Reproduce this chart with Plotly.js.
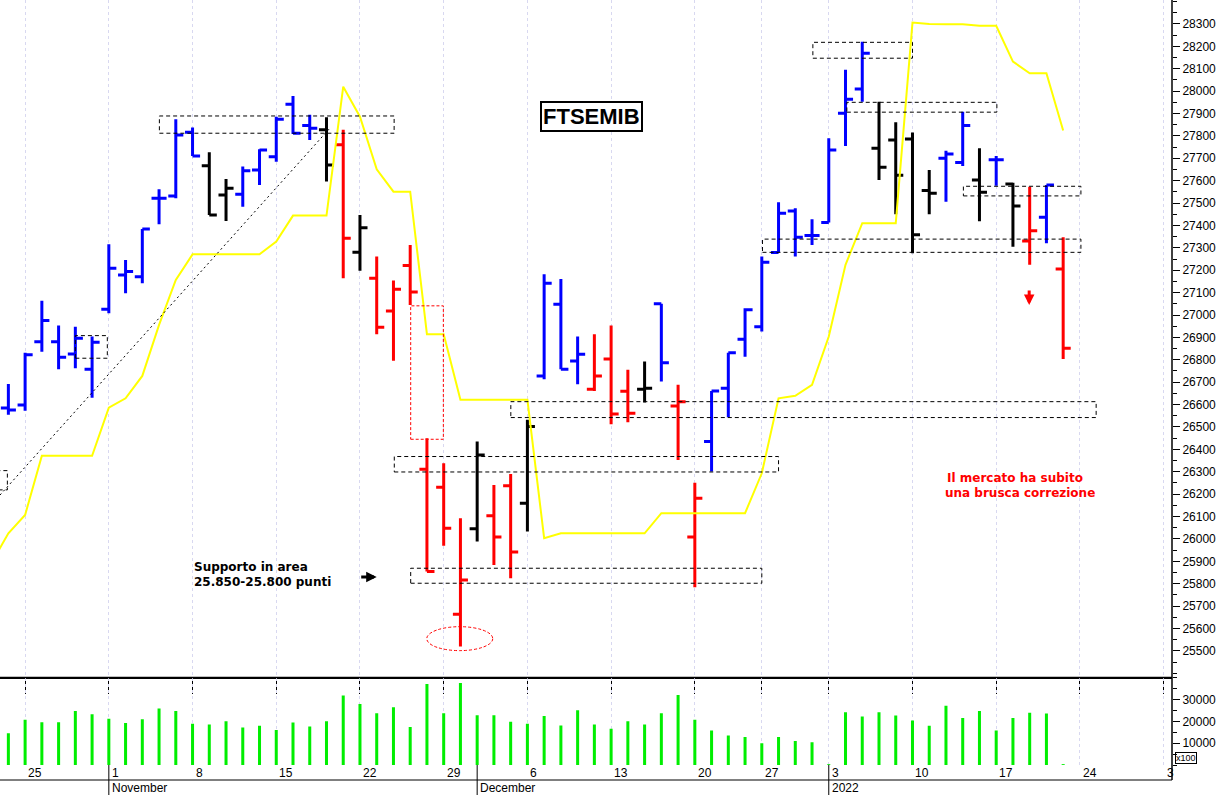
<!DOCTYPE html>
<html>
<head>
<meta charset="utf-8">
<script src="https://cdn.plot.ly/plotly-3.0.1.min.js"></script>
<style>
html,body{margin:0;padding:0;background:#ffffff;}
#chart{width:1221px;height:795px;}
</style>
</head>
<body>
<div id="chart"></div>
<script>
// ---------- DATA ----------
const tradingDays = [
 '2021-10-22','2021-10-25','2021-10-26','2021-10-27','2021-10-28','2021-10-29',
 '2021-11-01','2021-11-02','2021-11-03','2021-11-04','2021-11-05',
 '2021-11-08','2021-11-09','2021-11-10','2021-11-11','2021-11-12',
 '2021-11-15','2021-11-16','2021-11-17','2021-11-18','2021-11-19',
 '2021-11-22','2021-11-23','2021-11-24','2021-11-25','2021-11-26',
 '2021-11-29','2021-11-30','2021-12-01','2021-12-02','2021-12-03',
 '2021-12-06','2021-12-07','2021-12-08','2021-12-09','2021-12-10',
 '2021-12-13','2021-12-14','2021-12-15','2021-12-16','2021-12-17',
 '2021-12-20','2021-12-21','2021-12-22','2021-12-23',
 '2021-12-27','2021-12-28','2021-12-29','2021-12-30',
 '2022-01-03','2022-01-04','2022-01-05','2022-01-06','2022-01-07',
 '2022-01-10','2022-01-11','2022-01-12','2022-01-13','2022-01-14',
 '2022-01-17','2022-01-18','2022-01-19','2022-01-20','2022-01-21'
];
const openP = [26585,26598,26881,26881,26826,26758,27026,27179,27171,27522,27532,27816,27667,27536,27539,27648,27707,27941,27846,27827,
 27760,27280,27164,27018,27221,26311,26231,25664,26045,26103,26237,26159,26728,27048,26795,26669,26804,26660,26669,27050,
 26594,26008,26435,26673,26892,26948,27279,27465,27355,27413,27901,28010,27745,27782,27786,27556,27700,27681,27603,27693,
 27585,27331,27437,27206];
const highP = [26692,26831,27064,26953,26948,26904,27316,27246,27384,27562,27874,27837,27727,27608,27663,27740,27886,27978,27894,27883,
 27827,27447,27261,27154,27313,26450,26338,26092,26435,26241,26290,26532,27182,27161,26904,26914,26953,26755,26792,27050,
 26688,26251,26661,26832,27030,27261,27504,27477,27428,27790,28095,28221,27953,27861,27815,27648,27734,27908,27745,27710,
 27591,27573,27581,27347];
const lowP = [26554,26572,26836,26758,26762,26631,27008,27097,27142,27405,27522,27710,27447,27420,27484,27581,27685,27809,27782,27596,
 27164,27198,26914,26796,27045,25854,25969,25519,25988,25884,25824,26033,26713,26758,26691,26661,26512,26521,26609,26703,
 26353,25784,26301,26543,26814,26926,27279,27261,27313,27413,27755,27953,27603,27450,27276,27450,27506,27666,27419,27577,
 27305,27224,27321,26803];
const closeP = [26576,26822,26975,26811,26896,26878,27209,27194,27384,27522,27804,27710,27447,27566,27644,27737,27874,27812,27834,27670,
 27343,27390,26945,27115,27103,25854,26048,25817,26375,26008,25941,26502,27142,26758,26825,26728,26558,26561,26673,26787,
 26613,26182,26661,26832,27023,27236,27455,27347,27355,27737,27964,28169,27660,27624,27358,27544,27719,27846,27548,27693,
 27487,27376,27581,26852];
// bar colour class: b = blue, k = black, r = red
const barClass = ['b','b','b','b','b','b','b','b','b','b','b','b','k','k','b','b','b','b','b','k',
 'r','k','r','r','r','r','r','r','k','r','r','k','b','b','b','r','r','r','k','b',
 'r','r','b','b','b','b','b','b','b','b','b','b','k','k','k','k','b','b','k','b',
 'k','r','b','r'];
// volume (x100)
const volume = [14500,20700,19600,19600,24700,23300,21200,19300,21000,25900,24700,18900,18600,20100,17200,18000,16000,19500,17700,20100,
 31800,27900,23700,26500,17400,37100,23700,37600,22800,22800,19800,18900,22400,18100,25100,18600,16600,20100,18600,23700,
 32100,20700,15800,13500,12800,10000,12800,11000,10400,400,24200,22200,24200,22700,20400,18000,27200,21500,24700,15800,
 21500,24000,23600,400];
// yellow trailing line (first value belongs to the session before the first visible bar)
const stopIdx = [-1].concat(tradingDays.map((d,i)=>i));
const stopLine = [25893,26025,26107,26371,26371,26371,26371,26586,26628,26728,26956,27157,27271,27271,27271,27271,27271,27328,27444,27444,27444,
 28020,27886,27651,27551,27551,26914,26914,26621,26621,26621,26621,26621,26003,26025,26025,26025,26025,26025,26025,26115,
 26115,26115,26115,26115,26115,26293,26628,26639,26688,26904,27224,27410,27410,27410,28306,28300,28299,28299,28292,28292,
 28132,28080,28080,27824];
// x-axis tick labels (Mondays) and month labels
const weekTickIdx = [1,6,11,16,21,26,31,36,41,45,49,54,59,64,69];
const weekTickText = ['25','1','8','15','22','29','6','13','20','27','3','10','17','24','3'];
const monthIdx = [6,28,49];
const monthText = ['November','December','2022'];
const priceTickVals = [25500,25600,25700,25800,25900,26000,26100,26200,26300,26400,26500,26600,26700,26800,26900,27000,
 27100,27200,27300,27400,27500,27600,27700,27800,27900,28000,28100,28200,28300];
const volTickVals = [10000,20000,30000];
const volTickText = ['10000','20000','30000'];

// chart markings: dashed boxes [x0,x1,y0,y1] in bar index / price
const blackBoxes = [
 [9.02,23.04,27812,27889],
 [4.0,5.91,26807,26908],
 [-1.0,-0.06,26219,26305],
 [23.05,46.0,26299,26368],
 [24.03,45.0,25802,25869],
 [30.01,64.97,26542,26613],
 [48.05,54.0,28147,28218],
 [50.08,59.04,27906,27950],
 [57.04,64.06,27532,27575],
 [45.04,64.06,27280,27339]
];
const redBox = [24.03,25.98,26445,27041];
const redEllipse = [24.99,28.93,25501,25608];
const trendLine = [-0.5,19.21,26196,27835];

// ---------- BUILD ----------
const idx = tradingDays.map((d,i)=>i);
const colorMap = {b:'#0000ff', k:'#000000', r:'#ff0000'};
const traces = [];

traces.push({
  type:'scatter', mode:'lines', x:stopIdx, y:stopLine,
  line:{color:'#ffff00', width:2}, hoverinfo:'skip', xaxis:'x', yaxis:'y'
});

['b','k','r'].forEach(c=>{
  const sel = idx.filter(i=>barClass[i]===c);
  traces.push({
    type:'ohlc', xaxis:'x', yaxis:'y',
    x: sel,
    open: sel.map(i=>openP[i]), high: sel.map(i=>highP[i]),
    low: sel.map(i=>lowP[i]), close: sel.map(i=>closeP[i]),
    tickwidth:0.45,
    line:{width:3},
    increasing:{line:{color:colorMap[c], width:3}},
    decreasing:{line:{color:colorMap[c], width:3}},
    hoverinfo:'skip'
  });
});

traces.push({
  type:'bar', x:idx, y:volume, xaxis:'x', yaxis:'y2', width:0.18,
  marker:{color:'#00ee00', line:{width:0}}, hoverinfo:'skip'
});

const H = 765; // plot area height in px
const sep = 87.5/H;
const py = px => -(px)/H; // pixel offset below the plot bottom -> paper y

const shapes = [];
// frame lines
shapes.push({type:'line', xref:'paper', yref:'paper', x0:0, x1:1, y0:sep, y1:sep, line:{color:'#000', width:1.5}});
shapes.push({type:'line', xref:'paper', yref:'paper', x0:0, x1:1, y0:py(15), y1:py(15), line:{color:'#000', width:1}});
shapes.push({type:'line', xref:'paper', yref:'paper', x0:1, x1:1, y0:py(15), y1:1, line:{color:'#000', width:1.5}});
monthIdx.forEach(m=>{
  shapes.push({type:'line', xref:'x', yref:'paper', x0:m, x1:m, y0:0, y1:py(30), line:{color:'#000', width:1}});
});
blackBoxes.forEach(b=>{
  shapes.push({type:'rect', xref:'x', yref:'y', x0:b[0], x1:b[1], y0:b[2], y1:b[3],
    line:{color:'#000', width:1, dash:'4px,3px'}, fillcolor:'rgba(0,0,0,0)'});
});
shapes.push({type:'rect', xref:'x', yref:'y', x0:redBox[0], x1:redBox[1], y0:redBox[2], y1:redBox[3],
  line:{color:'#ff0000', width:1, dash:'3px,2px'}, fillcolor:'rgba(0,0,0,0)'});
shapes.push({type:'circle', xref:'x', yref:'y', x0:redEllipse[0], x1:redEllipse[1], y0:redEllipse[2], y1:redEllipse[3],
  line:{color:'#ff0000', width:1, dash:'3px,2px'}, fillcolor:'rgba(0,0,0,0)'});
shapes.push({type:'line', xref:'x', yref:'y', x0:trendLine[0], x1:trendLine[1], y0:trendLine[2], y1:trendLine[3],
  line:{color:'#000', width:1, dash:'2px,3px'}});

const annotations = [];
weekTickIdx.forEach((t,i)=>{
  annotations.push({xref:'x', yref:'paper', x:t, y:py(7.5), xanchor:'left', yanchor:'middle', xshift:1,
    text:weekTickText[i], showarrow:false, font:{size:12, color:'#000', family:'"Liberation Sans", Arial, sans-serif'}});
});
monthIdx.forEach((m,i)=>{
  annotations.push({xref:'x', yref:'paper', x:m, y:py(23), xanchor:'left', yanchor:'middle', xshift:1,
    text:monthText[i], showarrow:false, font:{size:12, color:'#000', family:'"Liberation Sans", Arial, sans-serif'}});
});
annotations.push({xref:'paper', yref:'paper', x:1.0026, y:py(-7), xanchor:'left', yanchor:'middle',
  text:'x100', showarrow:false, bordercolor:'#000', borderwidth:1, borderpad:0,
  font:{size:9, color:'#000', family:'"Liberation Sans", Arial, sans-serif'}});
annotations.push({xref:'x', yref:'y', x:34.83, y:27885, xanchor:'center', yanchor:'middle',
  text:'FTSEMIB', showarrow:false, bgcolor:'#ffffff', bordercolor:'#000', borderwidth:2, borderpad:1,
  font:{size:22, color:'#000', weight:'bold', family:'"Liberation Sans", Arial, sans-serif'}});
annotations.push({xref:'x', yref:'y', x:14.52, y:25875, xanchor:'center', yanchor:'middle',
  text:'Supporto in area', showarrow:false,
  font:{size:12, color:'#000', weight:'bold', family:'"DejaVu Sans", Verdana, sans-serif'}});
annotations.push({xref:'x', yref:'y', x:15.15, y:25808, xanchor:'center', yanchor:'middle',
  text:'25.850-25.800 punti', showarrow:false,
  font:{size:12, color:'#000', weight:'bold', family:'"DejaVu Sans", Verdana, sans-serif'}});
// black right-pointing arrow (tip position in data coords, tail offset in px)
annotations.push({xref:'x', yref:'y', x:22.0, y:25830, text:'', showarrow:true,
  ax:-17, ay:0, arrowhead:2, arrowsize:0.7, arrowwidth:3, arrowcolor:'#000', standoff:0, startstandoff:0});
annotations.push({xref:'x', yref:'y', x:60.13, y:26272, xanchor:'center', yanchor:'middle',
  text:'Il mercato ha subito', showarrow:false,
  font:{size:12, color:'#ff0000', weight:'bold', family:'"DejaVu Sans", Verdana, sans-serif'}});
annotations.push({xref:'x', yref:'y', x:60.43, y:26205, xanchor:'center', yanchor:'middle',
  text:'una brusca correzione', showarrow:false,
  font:{size:12, color:'#ff0000', weight:'bold', family:'"DejaVu Sans", Verdana, sans-serif'}});
// red downward arrow
annotations.push({xref:'x', yref:'y', x:60.97, y:27045, text:'', showarrow:true,
  ax:0, ay:-16, arrowhead:2, arrowsize:0.7, arrowwidth:3, arrowcolor:'#ff0000', standoff:0, startstandoff:0});

const layout = {
  width:1221, height:795,
  margin:{l:0, r:49, t:0, b:30, pad:0},
  paper_bgcolor:'#ffffff', plot_bgcolor:'#ffffff',
  showlegend:false,
  dragmode:false,
  font:{family:'"Liberation Sans", Arial, sans-serif', size:12, color:'#000'},
  xaxis:{
    range:[-0.5,69.5], rangeslider:{visible:false},
    tickmode:'array', tickvals:weekTickIdx, ticktext:weekTickText, showticklabels:false,
    ticks:'outside', ticklen:15, tickwidth:1, tickcolor:'#000',
    showgrid:true, gridcolor:'#d8d8f0', gridwidth:1, griddash:'3px,3px',
    showline:true, linecolor:'#000', linewidth:1.5, zeroline:false, fixedrange:true
  },
  yaxis:{
    domain:[sep,1], range:[25381,28407], side:'right', anchor:'x',
    tickmode:'array', tickvals:priceTickVals, tickformat:'d',
    ticks:'outside', ticklen:7, tickwidth:1, tickcolor:'#000',
    minor:{tickmode:'linear', tick0:0, dtick:50, ticks:'outside', ticklen:4, tickwidth:1, tickcolor:'#000', showgrid:false},
    showline:false, showgrid:false, zeroline:false, fixedrange:true,
    tickfont:{size:12, color:'#000'}
  },
  yaxis2:{
    domain:[0,sep], range:[0,40100], side:'right', anchor:'x',
    tickmode:'array', tickvals:volTickVals, ticktext:volTickText,
    ticks:'outside', ticklen:7, tickwidth:1, tickcolor:'#000',
    minor:{tickmode:'linear', tick0:0, dtick:5000, ticks:'outside', ticklen:4, tickwidth:1, tickcolor:'#000', showgrid:false},
    showline:false, showgrid:false, zeroline:false, fixedrange:true,
    tickfont:{size:12, color:'#000'}
  },
  shapes:shapes,
  annotations:annotations
};

Plotly.newPlot('chart', traces, layout, {staticPlot:true, displayModeBar:false});
</script>
</body>
</html>
